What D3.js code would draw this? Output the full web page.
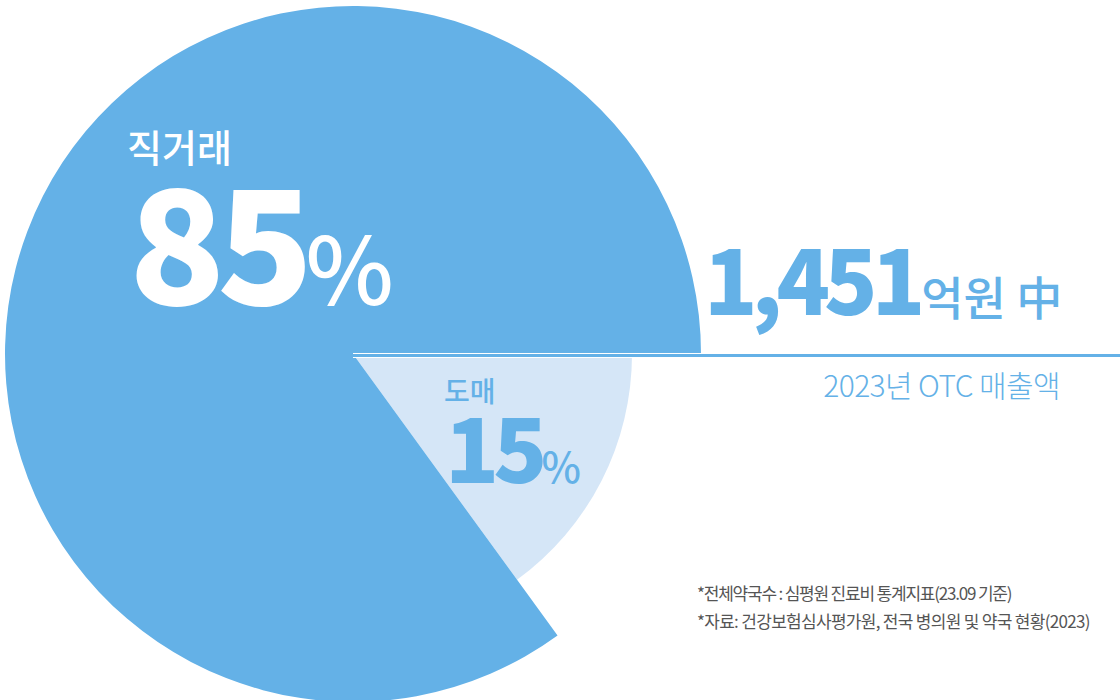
<!DOCTYPE html>
<html>
<head>
<meta charset="utf-8">
<script src="https://cdn.jsdelivr.net/npm/d3@7"></script>
<style>
  body { margin: 0; background: #fff; }
  svg { display: block; font-family: "Noto Sans CJK KR", "Noto Sans", sans-serif; }
</style>
</head>
<body>
<div class="chart"></div>
<script>
// data
var labels = ["도매", "직거래"];
var shares = [15, 85];
var total = "1,451";
var totalUnit = "억원 中";
var subtitle = "2023년 OTC 매출액";
var notes = ["*전체약국수 : 심평원 진료비 통계지표(23.09 기준)",
             "*자료: 건강보험심사평가원, 전국 병의원 및 약국 현황(2023)"];

var blue = "#64b1e7", light = "#d5e6f7";

var svg = d3.select(".chart")
    .append("svg")
    .attr("width", 1120)
    .attr("height", 700);

var cx = 353, cy = 354;
var radius = [279, 348];

var pie = d3.pie().sort(null)
    .startAngle(Math.PI / 2)
    .endAngle(Math.PI / 2 + 2 * Math.PI);

var arcs = pie(shares);

svg.selectAll("path.slice")
    .data(arcs)
    .enter()
    .append("path")
    .attr("class", "slice")
    .attr("transform", "translate(" + cx + "," + cy + ")")
    .style("fill", function (d, i) { return [light, blue][i]; })
    .attr("d", function (d, i) {
        return d3.arc().innerRadius(0).outerRadius(radius[i])(d);
    });

// divider line
svg.append("line")
    .attr("x1", cx).attr("x2", 1120)
    .attr("y1", cy + 1.5).attr("y2", cy + 1.5)
    .attr("stroke", "#fff").attr("stroke-width", 5);
svg.append("line")
    .attr("x1", cx).attr("x2", 1120)
    .attr("y1", cy + 1.5).attr("y2", cy + 1.5)
    .attr("stroke", blue).attr("stroke-width", 3);

// big slice label
svg.append("text")
    .attr("x", 127).attr("y", 162)
    .text(labels[1])
    .style("font-size", "38px").style("font-weight", 500)
    .attr("fill", "#fff");

var big = svg.append("text")
    .attr("x", 129).attr("y", 305)
    .attr("fill", "#fff");
big.append("tspan").text(shares[1])
    .style("font-size", "158px").style("font-weight", 900)
    .style("letter-spacing", "-8px");
big.append("tspan").text("%")
    .attr("dx", 0)
    .style("font-size", "94px").style("font-weight", 500);

// small slice label
svg.append("text")
    .attr("x", 444).attr("y", 402)
    .text(labels[0])
    .style("font-size", "28px").style("font-weight", 500)
    .attr("fill", blue);

var small = svg.append("text")
    .attr("x", 445).attr("y", 483)
    .attr("fill", blue);
small.append("tspan").text(shares[0])
    .style("font-size", "89px").style("font-weight", 900)
    .style("letter-spacing", "-6px");
small.append("tspan").text("%")
    .attr("dx", 0)
    .style("font-size", "42px").style("font-weight", 500);

// total
var tot = svg.append("text")
    .attr("x", 704).attr("y", 315)
    .attr("fill", blue);
tot.append("tspan").text(total)
    .style("font-size", "88px").style("font-weight", 900)
    .style("letter-spacing", "-6px");
tot.append("tspan").text(totalUnit)
    .attr("dx", 2)
    .style("font-size", "46px").style("font-weight", 500);

svg.append("text")
    .attr("x", 1060).attr("y", 397)
    .attr("text-anchor", "end")
    .text(subtitle)
    .style("font-size", "30px").style("font-weight", 300)
    .style("letter-spacing", "-0.6px")
    .attr("fill", blue);

// footnotes
svg.selectAll("text.note")
    .data(notes)
    .enter()
    .append("text")
    .attr("class", "note")
    .attr("x", 697)
    .attr("y", function (d, i) { return 600 + i * 28; })
    .text(function (d) { return d; })
    .style("font-size", "17px").style("font-weight", 400)
    .style("letter-spacing", function (d, i) { return i ? "-0.7px" : "-1.2px"; })
    .attr("fill", "#555");
</script>
</body>
</html>
